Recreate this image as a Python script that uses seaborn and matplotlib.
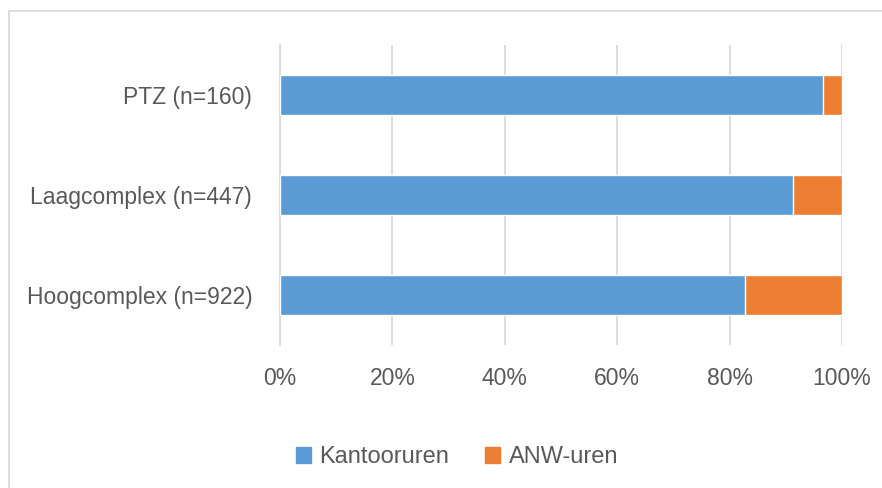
import matplotlib
matplotlib.use("Agg")
import matplotlib.pyplot as plt
from matplotlib.patches import Rectangle, Patch
from matplotlib.ticker import FuncFormatter
import seaborn as sns
import pandas as pd

# data
categories = ["PTZ (n=160)", "Laagcomplex (n=447)", "Hoogcomplex (n=922)"]
kantooruren = [96.7, 91.2, 82.8]
anw_uren = [3.3, 8.8, 17.2]

BLUE = "#5B9BD5"
ORANGE = "#ED7D31"
GRID = "#D9D9D9"
TEXT = "#595959"

sns.set_theme(style="white")
plt.rcParams["font.family"] = ["Liberation Sans", "DejaVu Sans"]

df = pd.DataFrame({
    "cat": categories,
    "kantoor": kantooruren,
    "totaal": [k + a for k, a in zip(kantooruren, anw_uren)],
})

fig = plt.figure(figsize=(8.82, 4.88), dpi=100)
ax = fig.add_axes([280 / 882, 1 - 345 / 488, 562 / 882, 300 / 488])

# stacked: total (orange) first, then blue on top
sns.barplot(data=df, x="totaal", y="cat", order=categories, color=ORANGE,
            orient="h", width=0.4, saturation=1, ax=ax, zorder=3)
sns.barplot(data=df, x="kantoor", y="cat", order=categories, color=BLUE,
            orient="h", width=0.4, saturation=1, ax=ax, zorder=4)

ax.set_xlim(0, 100)
ax.set_xticks([0, 20, 40, 60, 80, 100])
ax.xaxis.set_major_formatter(FuncFormatter(lambda v, p: f"{int(v)}%"))
ax.grid(True, axis="x", color=GRID, linewidth=1.3, zorder=0)
ax.set_axisbelow(True)
for s in ["top", "right", "bottom"]:
    ax.spines[s].set_visible(False)
ax.spines["left"].set_color(GRID)
ax.spines["left"].set_linewidth(1.3)
ax.set_xlabel("")
ax.set_ylabel("")
ax.tick_params(axis="both", length=0, labelsize=16.5, colors=TEXT)
ax.tick_params(axis="x", pad=16)
ax.tick_params(axis="y", pad=20)

handles = [Patch(color=BLUE, label="Kantooruren"),
           Patch(color=ORANGE, label="ANW-uren")]
fig.legend(handles=handles, loc="center", bbox_to_anchor=(457 / 882, 1 - 457 / 488),
           ncol=2, frameon=False, fontsize=17, labelcolor=TEXT,
           handlelength=0.65, handleheight=0.65, handletextpad=0.35,
           columnspacing=1.5)

# outer chart border (cropped at right/bottom)
fig.patches.append(Rectangle((9 / 882, -0.1), 1.2, 1.1 - 11 / 488,
                             transform=fig.transFigure, fill=False,
                             edgecolor=GRID, linewidth=1.3))

fig.savefig("out.png", dpi=100)
